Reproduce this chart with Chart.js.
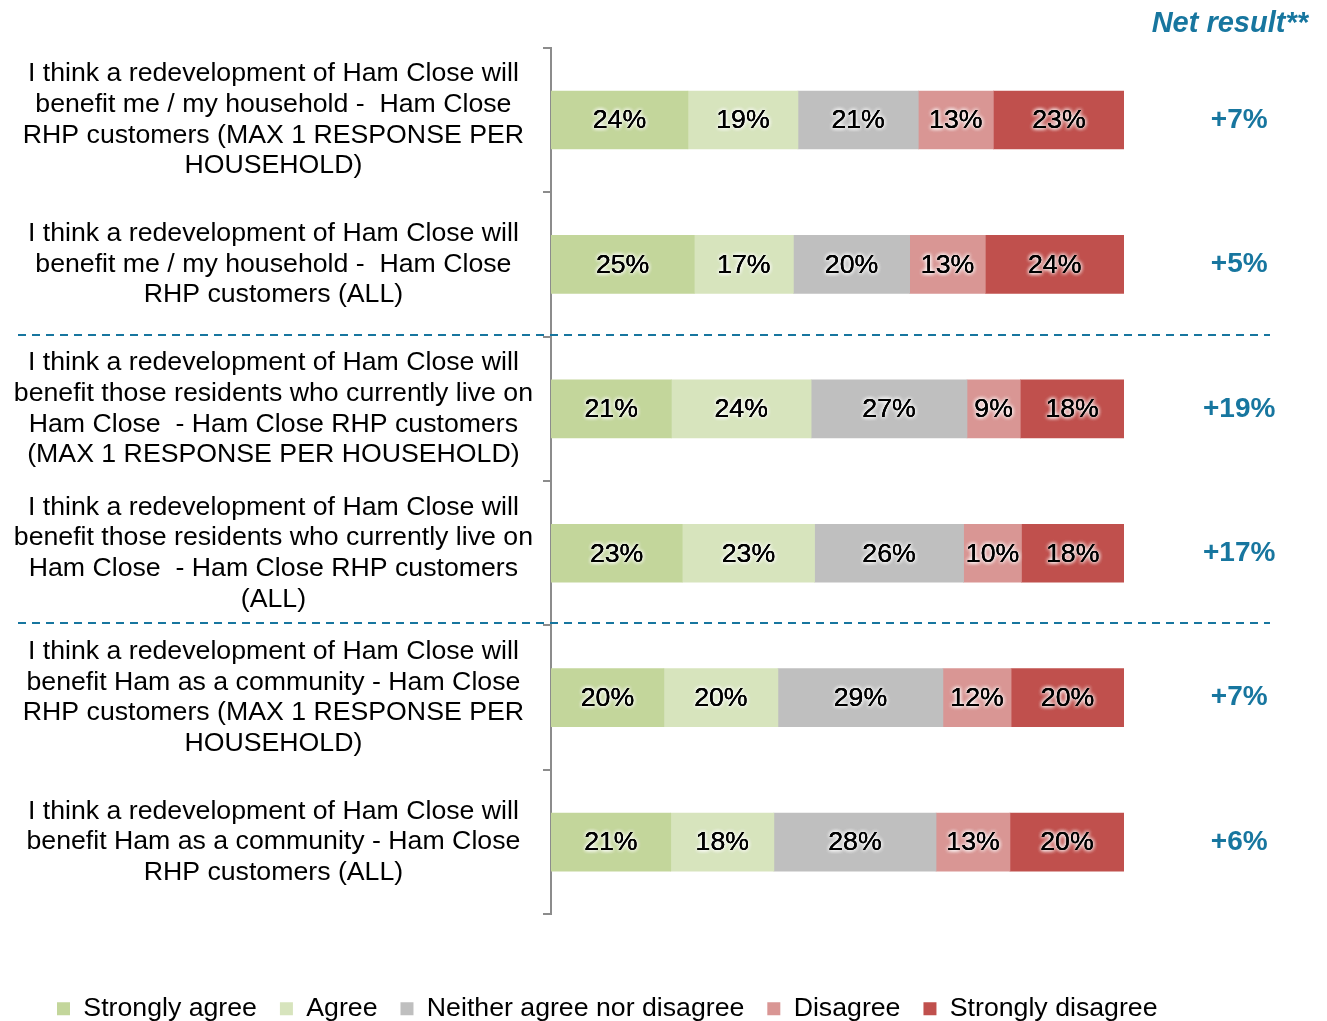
<!DOCTYPE html>
<html>
<head>
<meta charset="utf-8">
<script src="https://cdn.jsdelivr.net/npm/chart.js@4.4.1/dist/chart.umd.min.js"></script>
<style>
  html, body { margin: 0; padding: 0; background: #fff; }
  #wrap { width: 1327px; height: 1021px; position: relative; }
</style>
</head>
<body>
<div id="wrap"><canvas id="c"></canvas></div>
<script>
const categories = [
  ["I think a redevelopment of Ham Close will", "benefit me / my household -  Ham Close", "RHP customers (MAX 1 RESPONSE PER", "HOUSEHOLD)"],
  ["I think a redevelopment of Ham Close will", "benefit me / my household -  Ham Close", "RHP customers (ALL)"],
  ["I think a redevelopment of Ham Close will", "benefit those residents who currently live on", "Ham Close  - Ham Close RHP customers", "(MAX 1 RESPONSE PER HOUSEHOLD)"],
  ["I think a redevelopment of Ham Close will", "benefit those residents who currently live on", "Ham Close  - Ham Close RHP customers", "(ALL)"],
  ["I think a redevelopment of Ham Close will", "benefit Ham as a community - Ham Close", "RHP customers (MAX 1 RESPONSE PER", "HOUSEHOLD)"],
  ["I think a redevelopment of Ham Close will", "benefit Ham as a community - Ham Close", "RHP customers (ALL)"]
];
const stronglyAgree = [23.9, 25.0, 21.0, 22.9, 19.7, 20.9];
const agree         = [19.2, 17.3, 24.4, 23.1, 19.9, 18.0];
const neither       = [21.0, 20.3, 27.2, 26.0, 28.8, 28.3];
const disagree      = [13.1, 13.2, 9.3, 10.1, 11.9, 12.9];
const stronglyDis   = [22.9, 24.2, 18.1, 17.9, 19.7, 19.9];
const netResults    = ["+7%", "+5%", "+19%", "+17%", "+7%", "+6%"];
const seriesNames   = ["Strongly agree", "Agree", "Neither agree nor disagree", "Disagree", "Strongly disagree"];
const seriesColors  = ["#C3D69B", "#D7E4BD", "#BFBFBF", "#D99694", "#C0504D"];
const netTitle      = "Net result**";

const FONT = "'Liberation Sans', Arial, sans-serif";
const BLUE = "#17769f";
const FS = 26.7;
Chart.defaults.font.family = FONT;
Chart.defaults.color = "#000";

const seriesData = [stronglyAgree, agree, neither, disagree, stronglyDis];

const barLabels = {
  id: 'barLabels',
  afterDatasetsDraw(chart) {
    const ctx = chart.ctx;
    ctx.save();
    ctx.font = FS + "px " + FONT;
    ctx.textAlign = 'center';
    ctx.textBaseline = 'middle';
    chart.data.datasets.forEach((ds, di) => {
      const meta = chart.getDatasetMeta(di);
      meta.data.forEach((bar, i) => {
        const txt = Math.round(ds.data[i]) + '%';
        const x = (bar.x + bar.base) / 2;
        const y = bar.y + 1;
        ctx.shadowColor = 'rgba(255,255,255,1)';
        ctx.shadowBlur = 4;
        ctx.fillStyle = '#000';
        for (let k = 0; k < 3; k++) ctx.fillText(txt, x, y);
        ctx.shadowBlur = 0;
        ctx.shadowColor = 'transparent';
        ctx.fillText(txt, x, y);
      });
    });
    ctx.restore();
  }
};

const dividers = {
  id: 'dividers',
  afterDraw(chart) {
    const y = chart.scales.y;
    const ctx = chart.ctx;
    ctx.save();
    ctx.strokeStyle = BLUE;
    ctx.lineWidth = 2;
    ctx.setLineDash([8, 6]);
    [[1, 2], [3, 4]].forEach(([a, b]) => {
      const py = Math.round((y.getPixelForValue(a) + y.getPixelForValue(b)) / 2) - 2;
      ctx.beginPath();
      ctx.moveTo(18, py);
      ctx.lineTo(1270, py);
      ctx.stroke();
    });
    ctx.restore();
  }
};

new Chart(document.getElementById('c'), {
  type: 'bar',
  data: {
    labels: categories,
    datasets: seriesNames.map((n, i) => ({
      label: n,
      data: seriesData[i],
      backgroundColor: seriesColors[i],
      borderWidth: 0,
      barThickness: 58
    }))
  },
  options: {
    indexAxis: 'y',
    responsive: true,
    maintainAspectRatio: false,
    animation: false,
    layout: { padding: { left: 34, right: 19, top: 0, bottom: -11 } },
    scales: {
      x: {
        stacked: true, min: 0, max: 100,
        display: true,
        grid: { display: false },
        border: { display: false },
        ticks: { display: false },
        afterFit(s) { s.height = 58; s.paddingLeft = 0; s.paddingRight = 0; }
      },
      y: {
        stacked: true,
        position: 'left',
        grid: { display: true, drawOnChartArea: false, drawTicks: true, tickLength: 8, color: '#8c8c8c', lineWidth: 2, offset: true },
        border: { display: true, color: '#8c8c8c', width: 2 },
        ticks: { crossAlign: 'center', padding: 10, font: { size: FS, lineHeight: 1.15 }, color: '#000', autoSkip: false },
        afterFit(s) {
          s.width = 517; s.paddingTop = 0; s.paddingBottom = 0;
          s._computeLabelArea = function () { return undefined; };
        }
      },
      y2: {
        type: 'category',
        labels: netResults,
        position: 'right',
        offset: true,
        grid: { display: false },
        border: { display: false },
        ticks: { crossAlign: 'center', padding: 71, font: { size: 28, weight: 'bold' }, color: BLUE },
        afterFit(s) { s.width = 184; s.paddingTop = 0; s.paddingBottom = 0; }
      }
    },
    plugins: {
      title: {
        display: true, text: netTitle, align: 'end', color: BLUE,
        font: { size: 29, weight: 'bold', style: 'italic' },
        padding: { top: 7, bottom: 6 }
      },
      legend: {
        position: 'bottom', align: 'start',
        labels: { boxWidth: 13, boxHeight: 13, padding: 23, color: '#000', font: { size: FS } }
      },
      tooltip: { enabled: false }
    }
  },
  plugins: [barLabels, dividers]
});
</script>
</body>
</html>
